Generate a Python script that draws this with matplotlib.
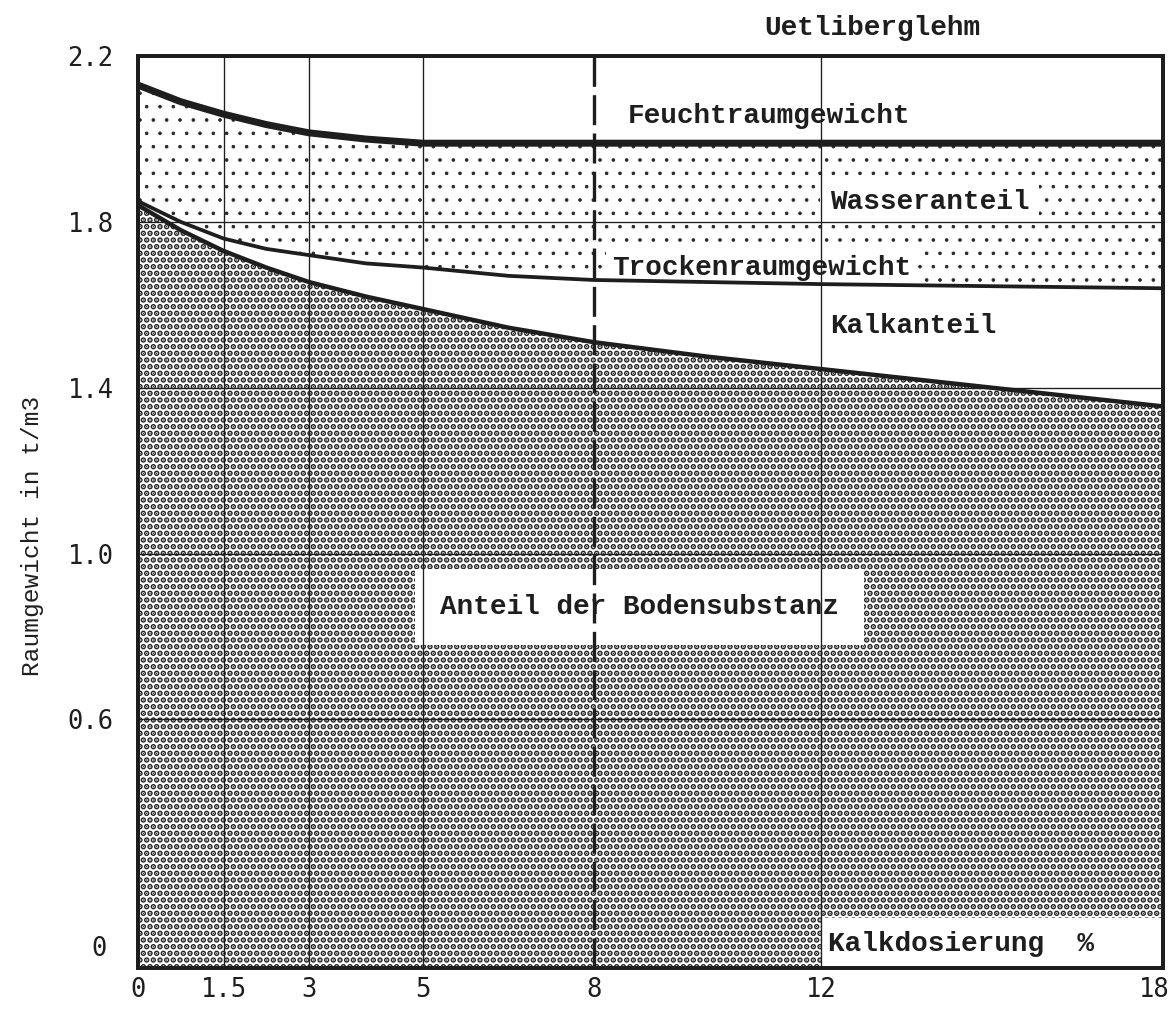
import matplotlib

matplotlib.use("Agg")
import matplotlib.pyplot as plt  # noqa: E402
import matplotlib.transforms as mtransforms  # noqa: E402
from matplotlib.patches import Rectangle  # noqa: E402

# Kalkdosierung in % (x) and Raumgewicht in t/m3 (y)
kalk = [0, 0.75, 1.5, 2.25, 3, 4, 5, 6.5, 8, 10, 12, 15, 18]
feucht = [2.13, 2.09, 2.06, 2.035, 2.015, 2.0, 1.99, 1.99, 1.99, 1.99, 1.99, 1.99, 1.99]
trocken = [1.85, 1.80, 1.76, 1.735, 1.72, 1.70, 1.69, 1.67, 1.66, 1.655, 1.65, 1.645, 1.64]
boden = [1.84, 1.78, 1.73, 1.69, 1.655, 1.62, 1.59, 1.545, 1.51, 1.475, 1.445, 1.40, 1.355]

x_ticks = [0, 1.5, 3, 5, 8, 12, 18]
x_labels = ["0", "1.5", "3", "5", "8", "12", "18"]
y_ticks = [0, 0.6, 1.0, 1.4, 1.8, 2.2]
y_labels = ["0", "0.6", "1.0", "1.4", "1.8", "2.2"]
v_grid = [1.5, 3, 5, 12]
h_grid = [0.6, 1.0, 1.4, 1.8]
dashed_x = 8

MONO = ["Liberation Mono", "DejaVu Sans Mono"]
TICKFONT = ["DejaVu Sans Mono"]
INK = "#1e1e1e"
DOTS = "#262626"

DPI = 80
fig = plt.figure(figsize=(1171 / DPI, 1012 / DPI), dpi=DPI)
fig.patch.set_facecolor("white")
ax = fig.add_axes([0.118, 0.0435, 0.875, 0.901])

# Wasseranteil: sparse dots between wet and dry density
plt.rcParams["hatch.linewidth"] = 0.8
wasser = ax.fill_between(kalk, trocken, feucht, facecolor="white", edgecolor=DOTS,
                         hatch=".", linewidth=0, zorder=1)
if hasattr(wasser, "set_hatch_linewidth"):
    wasser.set_hatch_linewidth(0.8)

# Anteil der Bodensubstanz: dense halftone below the soil curve
plt.rcParams["hatch.linewidth"] = 3.6
soil = ax.fill_between(kalk, 0, boden, facecolor="white", edgecolor=DOTS,
                       hatch="..", linewidth=0, zorder=1)
if hasattr(soil, "set_hatch_linewidth"):
    soil.set_hatch_linewidth(3.6)

# grid
for gx in v_grid:
    ax.axvline(gx, color=INK, lw=1.2, zorder=3)
for gy in h_grid:
    ax.axhline(gy, color=INK, lw=1.2, zorder=3)
ax.axvline(dashed_x, color=INK, lw=3.0, dashes=(9, 2.5), zorder=3)

# curves
ax.plot(kalk, feucht, color=INK, lw=6.3, solid_capstyle="butt", zorder=4)
ax.plot(kalk, trocken, color=INK, lw=3.4, solid_capstyle="butt", zorder=4)
ax.plot(kalk, boden, color=INK, lw=4.0, solid_capstyle="butt", zorder=4)

# labels inside the chart
txt = dict(fontsize=25, family=MONO, weight="bold", color=INK, va="center",
           ha="left", zorder=2)
white = dict(facecolor="white", edgecolor="none", boxstyle="square,pad=0.35")
ax.text(8.6, 2.055, "Feuchtraumgewicht", **txt)
ax.text(12.15, 1.848, "Wasseranteil", bbox=white, **txt)
ax.text(8.32, 1.69, "Trockenraumgewicht", bbox=dict(facecolor="white", edgecolor="none",
                                                      boxstyle="square,pad=0.2"), **txt)
ax.text(12.15, 1.55, "Kalkanteil", **txt)
ax.text(5.3, 0.87, "Anteil der Bodensubstanz",
        bbox=dict(facecolor="white", edgecolor="none", boxstyle="square,pad=0.9"), **txt)
ax.add_patch(Rectangle((12, 0), 6, 0.12, facecolor="white", edgecolor="none", zorder=2))
ax.text(12.12, 0.058, "Kalkdosierung  %", **txt)

ax.set_xlim(0, 18)
ax.set_ylim(0, 2.2)
ax.set_xticks(x_ticks)
ax.set_xticklabels(x_labels, fontsize=23, family=TICKFONT, color=INK)
ax.set_yticks(y_ticks)
ax.set_yticklabels(y_labels, fontsize=23, family=TICKFONT, color=INK)
ax.tick_params(length=0, pad=8)
ax.tick_params(axis="y", pad=22)
# the "0" sits a little above the baseline in the original
zero = ax.get_yticklabels()[0]
zero.set_transform(zero.get_transform()
                   + mtransforms.ScaledTranslation(-6 / 72, 20 / 72, fig.dpi_scale_trans))
# keep "18" inside the picture
last = ax.get_xticklabels()[-1]
last.set_horizontalalignment("right")
last.set_transform(last.get_transform()
                   + mtransforms.ScaledTranslation(6 / 72, 0, fig.dpi_scale_trans))

for side in ax.spines.values():
    side.set_linewidth(3.6)
    side.set_color(INK)
    side.set_zorder(5)

fig.text(0.028, 0.47, "Raumgewicht in t/m3", rotation=90, fontsize=22, family=MONO,
         color=INK, ha="center", va="center")
fig.text(0.745, 0.972, "Uetliberglehm", fontsize=25, family=MONO, weight="bold",
         color=INK, ha="center", va="center")

fig.savefig("out.png", dpi=DPI, facecolor="white")
